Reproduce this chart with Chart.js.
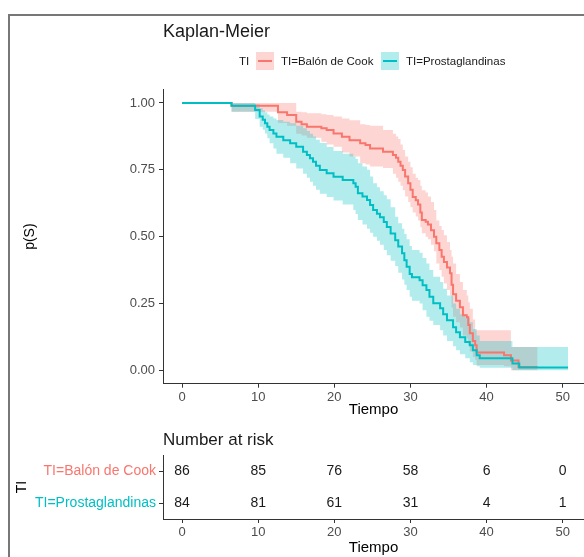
<!DOCTYPE html>
<html>
<head>
<meta charset="utf-8">
<script src="https://cdn.jsdelivr.net/npm/chart.js@4/dist/chart.umd.min.js"></script>
<style>
html,body{margin:0;padding:0;background:#fff;}
#wrap{position:relative;width:584px;height:557px;overflow:hidden;font-family:"Liberation Sans",Arial,Helvetica,sans-serif;}
#frame{position:absolute;left:8px;top:14px;width:600px;height:600px;border-top:2px solid #777;border-left:2px solid #777;}
#c1{position:absolute;left:0;top:0;}
#c2{position:absolute;left:0;top:420px;}
.lg{position:absolute;font-size:11.5px;color:#1a1a1a;line-height:14px;top:54px;white-space:nowrap;}
.key{position:absolute;top:52px;width:18px;height:18px;}
.key i{position:absolute;left:2px;right:2px;top:8px;height:2px;}
</style>
</head>
<body>
<div id="wrap">
  <div id="frame"></div>
  <canvas id="c1" width="584" height="420"></canvas>
  <canvas id="c2" width="584" height="137"></canvas>
  <div class="lg" style="left:239px">TI</div>
  <div class="key" style="left:256px;background:rgba(248,118,109,0.3)"><i style="background:#F8766D"></i></div>
  <div class="lg" style="left:281px">TI=Balón de Cook</div>
  <div class="key" style="left:381px;background:rgba(0,191,196,0.3)"><i style="background:#00BFC4"></i></div>
  <div class="lg" style="left:406px">TI=Prostaglandinas</div>
</div>
<script>
// ---- data ----
const redTimes  = [0, 6.5, 12.6, 13.8, 15.0, 15.7, 16.4, 18.3, 19.0, 19.9, 21.0, 22.0, 23.4, 24.1, 24.7, 26.4, 27.7, 28.1, 28.4, 28.7, 29.0, 29.3, 29.7, 30.0, 30.3, 30.7, 31.0, 31.3, 31.5, 32.0, 32.3, 32.7, 33.1, 33.4, 33.8, 34.1, 34.4, 34.8, 35.2, 35.4, 35.6, 36.0, 36.5, 36.9, 37.4, 37.6, 37.8, 38.2, 38.5, 38.7, 42.3, 43.2, 44.2, 46.7];
const redSurv   = [1.0, 0.99, 0.965, 0.955, 0.93, 0.92, 0.911, 0.905, 0.899, 0.886, 0.874, 0.861, 0.849, 0.843, 0.83, 0.818, 0.805, 0.795, 0.78, 0.765, 0.749, 0.725, 0.70, 0.675, 0.648, 0.636, 0.62, 0.59, 0.562, 0.556, 0.545, 0.524, 0.50, 0.475, 0.45, 0.425, 0.405, 0.385, 0.363, 0.32, 0.285, 0.26, 0.236, 0.206, 0.199, 0.17, 0.139, 0.11, 0.094, 0.067, 0.056, 0.037, 0.012, 0.012];
const redUpper  = [1.0, 1.0, 1.0, 1.0, 0.967, 0.965, 0.962, 0.958, 0.955, 0.949, 0.942, 0.935, 0.92, 0.918, 0.915, 0.899, 0.885, 0.875, 0.865, 0.845, 0.824, 0.80, 0.78, 0.76, 0.735, 0.72, 0.712, 0.69, 0.674, 0.665, 0.65, 0.63, 0.60, 0.56, 0.54, 0.525, 0.505, 0.48, 0.45, 0.425, 0.40, 0.36, 0.33, 0.30, 0.28, 0.255, 0.23, 0.19, 0.15, 0.15, 0.15, 0.087, 0.087, 0.087];
const redLower  = [1.0, 0.967, 0.925, 0.915, 0.885, 0.878, 0.87, 0.855, 0.845, 0.836, 0.815, 0.80, 0.775, 0.77, 0.762, 0.757, 0.735, 0.72, 0.705, 0.69, 0.674, 0.65, 0.63, 0.61, 0.59, 0.575, 0.56, 0.535, 0.513, 0.50, 0.49, 0.47, 0.445, 0.40, 0.375, 0.35, 0.325, 0.30, 0.28, 0.235, 0.20, 0.18, 0.16, 0.13, 0.12, 0.095, 0.07, 0.05, 0.04, 0.02, 0.015, 0.0, 0.0, 0.0];

const tealTimes = [0, 6.5, 9.6, 10.2, 10.6, 10.9, 11.2, 11.5, 12.0, 12.4, 13.3, 14.2, 15.0, 15.9, 16.4, 16.8, 17.2, 17.6, 18.1, 19.0, 19.9, 21.1, 22.5, 22.8, 23.1, 23.7, 24.3, 24.7, 25.1, 25.6, 26.0, 26.5, 26.9, 27.4, 28.0, 28.4, 28.9, 29.2, 29.5, 29.9, 30.2, 31.2, 31.6, 32.1, 32.5, 33.0, 33.9, 34.3, 34.8, 35.6, 36.0, 36.5, 37.2, 37.8, 38.2, 38.7, 39.1, 43.4, 44.3, 50.7];
const tealSurv  = [1.0, 0.99, 0.974, 0.949, 0.937, 0.924, 0.911, 0.899, 0.886, 0.874, 0.861, 0.849, 0.836, 0.818, 0.805, 0.793, 0.78, 0.765, 0.749, 0.737, 0.724, 0.712, 0.70, 0.687, 0.662, 0.65, 0.637, 0.618, 0.60, 0.586, 0.573, 0.555, 0.536, 0.512, 0.487, 0.463, 0.438, 0.412, 0.387, 0.36, 0.348, 0.337, 0.318, 0.30, 0.275, 0.251, 0.232, 0.21, 0.187, 0.161, 0.142, 0.124, 0.106, 0.094, 0.075, 0.056, 0.045, 0.026, 0.011, 0.011];
const tealUpper = [1.0, 1.0, 0.995, 0.98, 0.972, 0.965, 0.957, 0.949, 0.942, 0.936, 0.93, 0.924, 0.915, 0.905, 0.895, 0.885, 0.875, 0.862, 0.85, 0.835, 0.82, 0.81, 0.80, 0.79, 0.775, 0.762, 0.75, 0.725, 0.70, 0.685, 0.67, 0.655, 0.64, 0.61, 0.574, 0.55, 0.53, 0.51, 0.49, 0.465, 0.45, 0.44, 0.42, 0.40, 0.375, 0.35, 0.33, 0.305, 0.28, 0.25, 0.23, 0.21, 0.195, 0.18, 0.155, 0.13, 0.11, 0.087, 0.087, 0.087];
const tealLower = [1.0, 0.967, 0.94, 0.911, 0.90, 0.886, 0.868, 0.849, 0.83, 0.81, 0.795, 0.775, 0.755, 0.735, 0.72, 0.705, 0.69, 0.675, 0.66, 0.648, 0.635, 0.62, 0.60, 0.585, 0.562, 0.545, 0.53, 0.515, 0.50, 0.485, 0.47, 0.45, 0.43, 0.41, 0.39, 0.365, 0.34, 0.32, 0.30, 0.275, 0.26, 0.25, 0.225, 0.20, 0.185, 0.17, 0.15, 0.13, 0.11, 0.09, 0.075, 0.06, 0.045, 0.03, 0.02, 0.015, 0.01, 0.0, 0.0, 0.0];

const groupNames = ['TI=Balón de Cook', 'TI=Prostaglandinas'];
const riskTimes  = [0, 10, 20, 30, 40, 50];
const riskBalon  = [86, 85, 76, 58, 6, 0];
const riskProsta = [84, 81, 61, 31, 4, 1];
const xTicks = [0, 10, 20, 30, 40, 50];
const yTicks = [0, 0.25, 0.5, 0.75, 1.0];

// ---- styling ----
const FONT = '"Liberation Sans", Arial, Helvetica, sans-serif';
const RED = '#F8766D', TEAL = '#00BFC4';
const RED_A = 'rgba(248,118,109,0.3)', TEAL_A = 'rgba(0,191,196,0.3)';
const AX = '#333333', TICKC = '#4D4D4D';
const XMIN = -2.5, XMAX = 52.8;

const pts = (t, v) => t.map((x, i) => ({x: x, y: v[i]}));
const band = (data, extra) => Object.assign({data: data, stepped: 'before', borderWidth: 0, pointRadius: 0, fill: false, borderColor: 'rgba(0,0,0,0)'}, extra);

function xScale(titleBottom, height) {
  return {
    type: 'linear', min: XMIN, max: XMAX,
    afterBuildTicks: s => { s.ticks = xTicks.map(v => ({value: v})); },
    afterFit: s => { s.height = height; },
    ticks: {color: TICKC, font: {family: FONT, size: 13}, padding: 2, maxRotation: 0},
    grid: {drawOnChartArea: false, drawTicks: true, tickLength: 4, color: AX},
    border: {display: true, color: AX, width: 1},
    title: {display: true, text: 'Tiempo', color: '#000', font: {family: FONT, size: 15}, padding: {top: 0, bottom: titleBottom}}
  };
}

Chart.defaults.font.family = FONT;

new Chart(document.getElementById('c1'), {
  type: 'line',
  data: {
    datasets: [
      {label: 'red', data: pts(redTimes, redSurv), stepped: 'before', borderColor: RED, borderWidth: 2, pointRadius: 0, fill: false, order: 1},
      {label: 'teal', data: pts(tealTimes, tealSurv), stepped: 'before', borderColor: TEAL, borderWidth: 2, pointRadius: 0, fill: false, order: 0},
      band(pts(redTimes, redUpper), {order: 5}),
      band(pts(redTimes, redLower), {order: 5, fill: '-1', backgroundColor: RED_A}),
      band(pts(tealTimes, tealUpper), {order: 4}),
      band(pts(tealTimes, tealLower), {order: 4, fill: '-1', backgroundColor: TEAL_A})
    ]
  },
  options: {
    responsive: false, animation: false, devicePixelRatio: 1,
    layout: {padding: 0},
    plugins: {
      legend: {display: false}, tooltip: {enabled: false},
      title: {display: true, text: 'Kaplan-Meier', align: 'start', fullSize: false, color: '#1a1a1a',
              font: {family: FONT, size: 18, weight: 'normal'}, padding: {top: 21, bottom: 47}}
    },
    scales: {
      x: xScale(1, 36.3),
      y: {
        type: 'linear', min: -0.05, max: 1.05,
        afterBuildTicks: s => { s.ticks = yTicks.map(v => ({value: v})); },
        afterFit: s => { s.width = 163; },
        ticks: {color: TICKC, font: {family: FONT, size: 13}, padding: 4, callback: v => Number(v).toFixed(2)},
        grid: {drawOnChartArea: false, drawTicks: true, tickLength: 4, color: AX},
        border: {display: true, color: AX, width: 1},
        title: {display: true, text: 'p(S)', color: '#000', font: {family: FONT, size: 14}, padding: {top: 21.6, bottom: 0}}
      }
    }
  }
});

const riskText = {
  id: 'riskText',
  afterDatasetsDraw(chart) {
    const ctx = chart.ctx;
    ctx.save();
    ctx.fillStyle = '#1a1a1a';
    ctx.font = '14px ' + FONT;
    ctx.textAlign = 'center';
    ctx.textBaseline = 'middle';
    chart.data.datasets.forEach((ds, di) => {
      const meta = chart.getDatasetMeta(di);
      meta.data.forEach((el, i) => { ctx.fillText(String(ds.risk[i]), el.x, el.y); });
    });
    ctx.restore();
  }
};

const rowColors = [RED, TEAL];
new Chart(document.getElementById('c2'), {
  type: 'line',
  data: {
    datasets: [riskBalon, riskProsta].map((vals, gi) => ({
      data: riskTimes.map(t => ({x: t, y: groupNames[gi]})),
      risk: vals, showLine: false, pointRadius: 0, pointHoverRadius: 0
    }))
  },
  options: {
    responsive: false, animation: false, devicePixelRatio: 1,
    layout: {padding: 0},
    plugins: {
      legend: {display: false}, tooltip: {enabled: false},
      title: {display: true, text: 'Number at risk', align: 'start', fullSize: false, color: '#1a1a1a',
              font: {family: FONT, size: 17, weight: 'normal'}, padding: {top: 9.8, bottom: 4.8}}
    },
    scales: {
      x: xScale(0, 38),
      y: {
        type: 'category', labels: groupNames, offset: true,
        afterFit: s => { s.width = 163; },
        ticks: {color: ctx => rowColors[ctx.index], font: {family: FONT, size: 14}, padding: 3},
        grid: {drawOnChartArea: false, drawTicks: true, tickLength: 4, color: AX, offset: false},
        border: {display: true, color: AX, width: 1},
        title: {display: true, text: 'TI', color: '#000', font: {family: FONT, size: 14}, padding: {top: 13.6, bottom: 0}}
      }
    }
  },
  plugins: [riskText]
});
</script>
</body>
</html>
